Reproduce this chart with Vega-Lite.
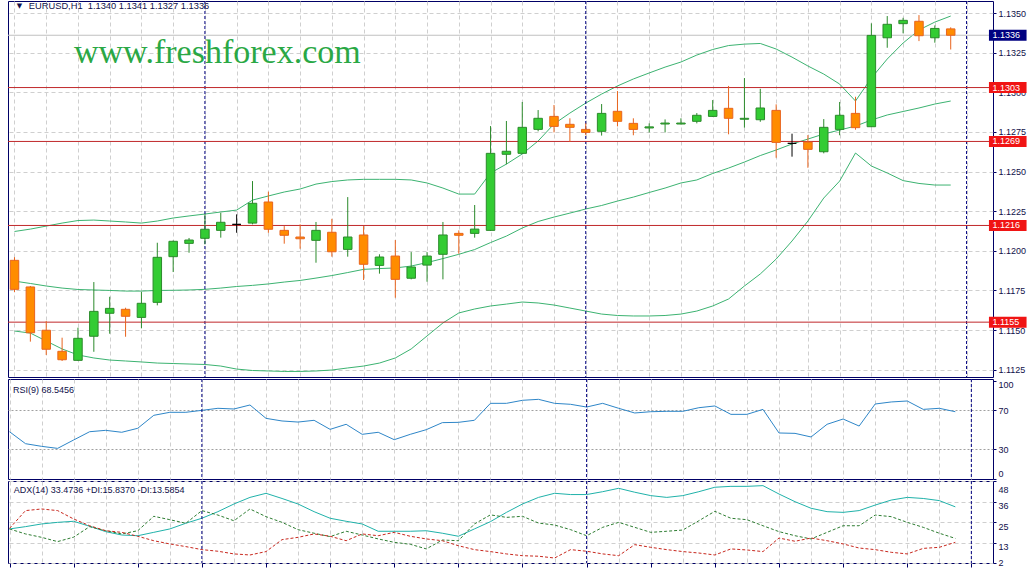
{
  "$schema": "https://vega.github.io/schema/vega-lite/v6.json",
  "background": "white",
  "padding": {"left": 7, "top": 0, "right": 0, "bottom": 0},
  "spacing": 2,
  "bounds": "flush",
  "config": {
    "view": {"stroke": "#000066", "strokeWidth": 1},
    "axis": {"labelFont": "Liberation Sans", "labelFontSize": 9, "labelColor": "#10104a", "gridColor": "#CFCFCF", "gridDash": [4, 3], "gridWidth": 1, "tickColor": "#000066", "domain": false}
  },
  "datasets": {
    "bars": [
      {"i":0,"o":1.11940,"h":1.11960,"l":1.11740,"c":1.11757,"u":1.12122,"m":1.11809,"lb":1.11494,"rsi":48.0,"adx":21.1,"pdi":21.1,"mdi":21.4},
      {"i":1,"o":1.11772,"h":1.11778,"l":1.11427,"c":1.11483,"u":1.12137,"m":1.11794,"lb":1.11481,"rsi":35.7,"adx":22.4,"pdi":18.3,"mdi":31.4},
      {"i":2,"o":1.11499,"h":1.11557,"l":1.11343,"c":1.11379,"u":1.12156,"m":1.11778,"lb":1.11431,"rsi":33.0,"adx":23.9,"pdi":16.4,"mdi":32.3},
      {"i":3,"o":1.11366,"h":1.11452,"l":1.11305,"c":1.11313,"u":1.12175,"m":1.11765,"lb":1.11381,"rsi":30.9,"adx":24.8,"pdi":14.0,"mdi":31.4},
      {"i":4,"o":1.11309,"h":1.11515,"l":1.11305,"c":1.11448,"u":1.12191,"m":1.11756,"lb":1.11343,"rsi":39.5,"adx":25.4,"pdi":16.5,"mdi":26.7},
      {"i":5,"o":1.11461,"h":1.11803,"l":1.11363,"c":1.11618,"u":1.12194,"m":1.11753,"lb":1.11324,"rsi":48.0,"adx":22.6,"pdi":22.4,"mdi":22.9},
      {"i":6,"o":1.11606,"h":1.11710,"l":1.11477,"c":1.11637,"u":1.12188,"m":1.11750,"lb":1.11311,"rsi":49.4,"adx":19.6,"pdi":20.1,"mdi":20.1},
      {"i":7,"o":1.11631,"h":1.11641,"l":1.11458,"c":1.11587,"u":1.12182,"m":1.11746,"lb":1.11305,"rsi":47.4,"adx":17.7,"pdi":18.3,"mdi":19.2},
      {"i":8,"o":1.11580,"h":1.11740,"l":1.11511,"c":1.11669,"u":1.12175,"m":1.11746,"lb":1.11299,"rsi":51.5,"adx":17.3,"pdi":20.1,"mdi":17.0},
      {"i":9,"o":1.11675,"h":1.12051,"l":1.11656,"c":1.11959,"u":1.12188,"m":1.11750,"lb":1.11292,"rsi":64.8,"adx":19.2,"pdi":28.2,"mdi":14.5},
      {"i":10,"o":1.11963,"h":1.12065,"l":1.11866,"c":1.12060,"u":1.12207,"m":1.11751,"lb":1.11289,"rsi":67.9,"adx":21.1,"pdi":26.3,"mdi":12.7},
      {"i":11,"o":1.12047,"h":1.12081,"l":1.11988,"c":1.12068,"u":1.12220,"m":1.11753,"lb":1.11286,"rsi":67.9,"adx":24.3,"pdi":24.3,"mdi":11.2},
      {"i":12,"o":1.12079,"h":1.12230,"l":1.12041,"c":1.12136,"u":1.12232,"m":1.11757,"lb":1.11283,"rsi":69.9,"adx":27.1,"pdi":31.4,"mdi":9.5},
      {"i":13,"o":1.12129,"h":1.12240,"l":1.12083,"c":1.12180,"u":1.12245,"m":1.11765,"lb":1.11273,"rsi":72.0,"adx":30.8,"pdi":28.9,"mdi":8.6},
      {"i":14,"o":1.12167,"h":1.12230,"l":1.12114,"c":1.12167,"u":1.12257,"m":1.11775,"lb":1.11254,"rsi":71.3,"adx":35.1,"pdi":25.7,"mdi":7.1},
      {"i":15,"o":1.12175,"h":1.12440,"l":1.12167,"c":1.12300,"u":1.12320,"m":1.11782,"lb":1.11245,"rsi":75.4,"adx":38.8,"pdi":32.3,"mdi":6.5},
      {"i":16,"o":1.12308,"h":1.12373,"l":1.12114,"c":1.12136,"u":1.12346,"m":1.11791,"lb":1.11242,"rsi":61.7,"adx":41.1,"pdi":28.0,"mdi":8.4},
      {"i":17,"o":1.12129,"h":1.12156,"l":1.12045,"c":1.12098,"u":1.12371,"m":1.11803,"lb":1.11239,"rsi":59.0,"adx":38.2,"pdi":24.8,"mdi":15.1},
      {"i":18,"o":1.12087,"h":1.12167,"l":1.12013,"c":1.12076,"u":1.12390,"m":1.11813,"lb":1.11239,"rsi":57.9,"adx":35.1,"pdi":20.7,"mdi":16.4},
      {"i":19,"o":1.12066,"h":1.12182,"l":1.11925,"c":1.12129,"u":1.12421,"m":1.11828,"lb":1.11242,"rsi":59.7,"adx":30.8,"pdi":18.7,"mdi":18.3},
      {"i":20,"o":1.12117,"h":1.12202,"l":1.11963,"c":1.11994,"u":1.12437,"m":1.11844,"lb":1.11248,"rsi":50.4,"adx":27.1,"pdi":16.8,"mdi":17.0},
      {"i":21,"o":1.12009,"h":1.12339,"l":1.11963,"c":1.12087,"u":1.12447,"m":1.11863,"lb":1.11261,"rsi":55.6,"adx":25.4,"pdi":19.8,"mdi":14.5},
      {"i":22,"o":1.12100,"h":1.12156,"l":1.11816,"c":1.11915,"u":1.12451,"m":1.11883,"lb":1.11273,"rsi":45.3,"adx":23.9,"pdi":17.7,"mdi":18.3},
      {"i":23,"o":1.11908,"h":1.11978,"l":1.11856,"c":1.11961,"u":1.12451,"m":1.11888,"lb":1.11292,"rsi":47.4,"adx":19.8,"pdi":15.5,"mdi":17.3},
      {"i":24,"o":1.11967,"h":1.12068,"l":1.11704,"c":1.11820,"u":1.12451,"m":1.11892,"lb":1.11324,"rsi":39.8,"adx":19.8,"pdi":13.6,"mdi":19.2},
      {"i":25,"o":1.11827,"h":1.11992,"l":1.11820,"c":1.11898,"u":1.12447,"m":1.11904,"lb":1.11381,"rsi":45.3,"adx":19.8,"pdi":12.5,"mdi":17.0},
      {"i":26,"o":1.11910,"h":1.11992,"l":1.11805,"c":1.11967,"u":1.12428,"m":1.11926,"lb":1.11463,"rsi":50.1,"adx":20.1,"pdi":9.9,"mdi":15.5},
      {"i":27,"o":1.11978,"h":1.12182,"l":1.11820,"c":1.12100,"u":1.12396,"m":1.11951,"lb":1.11545,"rsi":57.3,"adx":18.7,"pdi":14.9,"mdi":14.5},
      {"i":28,"o":1.12110,"h":1.12129,"l":1.11982,"c":1.12098,"u":1.12358,"m":1.11978,"lb":1.11608,"rsi":57.6,"adx":17.0,"pdi":14.5,"mdi":11.7},
      {"i":29,"o":1.12110,"h":1.12289,"l":1.12083,"c":1.12137,"u":1.12358,"m":1.12008,"lb":1.11633,"rsi":59.7,"adx":21.1,"pdi":23.9,"mdi":9.5},
      {"i":30,"o":1.12129,"h":1.12787,"l":1.12125,"c":1.12615,"u":1.12491,"m":1.12052,"lb":1.11652,"rsi":77.1,"adx":25.2,"pdi":29.0,"mdi":8.4},
      {"i":31,"o":1.12609,"h":1.12819,"l":1.12546,"c":1.12628,"u":1.12547,"m":1.12093,"lb":1.11664,"rsi":77.1,"adx":30.4,"pdi":27.6,"mdi":7.1},
      {"i":32,"o":1.12615,"h":1.12939,"l":1.12610,"c":1.12779,"u":1.12611,"m":1.12144,"lb":1.11677,"rsi":80.2,"adx":35.1,"pdi":28.2,"mdi":6.1},
      {"i":33,"o":1.12766,"h":1.12888,"l":1.12754,"c":1.12836,"u":1.12693,"m":1.12185,"lb":1.11671,"rsi":81.2,"adx":38.8,"pdi":24.4,"mdi":5.8},
      {"i":34,"o":1.12848,"h":1.12920,"l":1.12747,"c":1.12785,"u":1.12800,"m":1.12213,"lb":1.11658,"rsi":77.1,"adx":41.1,"pdi":23.3,"mdi":4.8},
      {"i":35,"o":1.12798,"h":1.12836,"l":1.12688,"c":1.12779,"u":1.12869,"m":1.12238,"lb":1.11639,"rsi":76.1,"adx":40.4,"pdi":20.7,"mdi":9.5},
      {"i":36,"o":1.12766,"h":1.12804,"l":1.12729,"c":1.12747,"u":1.12932,"m":1.12264,"lb":1.11620,"rsi":73.3,"adx":40.4,"pdi":17.3,"mdi":8.6},
      {"i":37,"o":1.12754,"h":1.12926,"l":1.12727,"c":1.12867,"u":1.12989,"m":1.12286,"lb":1.11601,"rsi":77.1,"adx":42.0,"pdi":22.0,"mdi":7.1},
      {"i":38,"o":1.12880,"h":1.13008,"l":1.12785,"c":1.12817,"u":1.13040,"m":1.12314,"lb":1.11592,"rsi":72.0,"adx":43.9,"pdi":24.8,"mdi":6.1},
      {"i":39,"o":1.12804,"h":1.12836,"l":1.12729,"c":1.12766,"u":1.13084,"m":1.12339,"lb":1.11589,"rsi":67.2,"adx":41.7,"pdi":22.0,"mdi":12.3},
      {"i":40,"o":1.12775,"h":1.12804,"l":1.12747,"c":1.12782,"u":1.13122,"m":1.12368,"lb":1.11589,"rsi":68.5,"adx":39.8,"pdi":19.2,"mdi":10.8},
      {"i":41,"o":1.12800,"h":1.12829,"l":1.12747,"c":1.12806,"u":1.13159,"m":1.12396,"lb":1.11592,"rsi":68.9,"adx":38.8,"pdi":19.8,"mdi":9.5},
      {"i":42,"o":1.12800,"h":1.12836,"l":1.12798,"c":1.12806,"u":1.13191,"m":1.12428,"lb":1.11601,"rsi":68.9,"adx":39.8,"pdi":20.5,"mdi":8.4},
      {"i":43,"o":1.12817,"h":1.12869,"l":1.12804,"c":1.12855,"u":1.13235,"m":1.12447,"lb":1.11620,"rsi":72.6,"adx":42.0,"pdi":25.7,"mdi":7.6},
      {"i":44,"o":1.12848,"h":1.12951,"l":1.12845,"c":1.12886,"u":1.13270,"m":1.12488,"lb":1.11652,"rsi":74.4,"adx":44.5,"pdi":31.0,"mdi":6.5},
      {"i":45,"o":1.12899,"h":1.13040,"l":1.12735,"c":1.12836,"u":1.13295,"m":1.12522,"lb":1.11696,"rsi":65.8,"adx":45.0,"pdi":27.1,"mdi":9.9},
      {"i":46,"o":1.12830,"h":1.13090,"l":1.12777,"c":1.12836,"u":1.13304,"m":1.12560,"lb":1.11778,"rsi":65.8,"adx":45.0,"pdi":26.3,"mdi":9.3},
      {"i":47,"o":1.12827,"h":1.13022,"l":1.12814,"c":1.12901,"u":1.13308,"m":1.12601,"lb":1.11854,"rsi":70.9,"adx":45.4,"pdi":22.9,"mdi":8.4},
      {"i":48,"o":1.12886,"h":1.12924,"l":1.12587,"c":1.12684,"u":1.13273,"m":1.12636,"lb":1.11948,"rsi":46.7,"adx":40.7,"pdi":19.6,"mdi":16.0},
      {"i":49,"o":1.12678,"h":1.12739,"l":1.12594,"c":1.12678,"u":1.13222,"m":1.12674,"lb":1.12062,"rsi":46.3,"adx":36.4,"pdi":17.3,"mdi":14.2},
      {"i":50,"o":1.12686,"h":1.12730,"l":1.12524,"c":1.12640,"u":1.13166,"m":1.12705,"lb":1.12188,"rsi":42.6,"adx":32.7,"pdi":15.5,"mdi":16.0},
      {"i":51,"o":1.12625,"h":1.12831,"l":1.12615,"c":1.12779,"u":1.13115,"m":1.12737,"lb":1.12333,"rsi":55.6,"adx":30.8,"pdi":19.2,"mdi":14.5},
      {"i":52,"o":1.12766,"h":1.12939,"l":1.12729,"c":1.12855,"u":1.13052,"m":1.12762,"lb":1.12440,"rsi":61.0,"adx":30.4,"pdi":22.9,"mdi":12.7},
      {"i":53,"o":1.12867,"h":1.12972,"l":1.12764,"c":1.12777,"u":1.12945,"m":1.12787,"lb":1.12617,"rsi":53.8,"adx":31.4,"pdi":22.9,"mdi":10.4},
      {"i":54,"o":1.12783,"h":1.13435,"l":1.12780,"c":1.13359,"u":1.13090,"m":1.12825,"lb":1.12535,"rsi":76.4,"adx":34.5,"pdi":28.9,"mdi":9.5},
      {"i":55,"o":1.13344,"h":1.13481,"l":1.13281,"c":1.13429,"u":1.13210,"m":1.12857,"lb":1.12491,"rsi":78.5,"adx":37.3,"pdi":28.0,"mdi":8.0},
      {"i":56,"o":1.13433,"h":1.13470,"l":1.13372,"c":1.13454,"u":1.13311,"m":1.12879,"lb":1.12443,"rsi":79.5,"adx":38.8,"pdi":24.8,"mdi":7.1},
      {"i":57,"o":1.13448,"h":1.13487,"l":1.13323,"c":1.13357,"u":1.13393,"m":1.12901,"lb":1.12425,"rsi":70.9,"adx":38.2,"pdi":22.0,"mdi":10.2},
      {"i":58,"o":1.13344,"h":1.13422,"l":1.13313,"c":1.13403,"u":1.13443,"m":1.12926,"lb":1.12415,"rsi":72.0,"adx":37.0,"pdi":18.7,"mdi":10.8},
      {"i":59,"o":1.13400,"h":1.13410,"l":1.13270,"c":1.13360,"u":1.13481,"m":1.12945,"lb":1.12415,"rsi":68.5,"adx":33.5,"pdi":15.8,"mdi":13.6}
    ],
    "levels": [{"v": 1.1303}, {"v": 1.1269}, {"v": 1.1216}, {"v": 1.1155}],
    "bid": [{"v": 1.1336}],
    "days": [{"d": 12}, {"d": 36}, {"d": 60}]
  },
  "vconcat": [
    {
      "width": 985,
      "height": 376,
      "data": {"name": "bars"},
      "layer": [
        {
          "mark": {"type": "line", "color": "#3CB371", "strokeWidth": 1, "clip": true},
          "encoding": {
            "x": {"field": "i", "type": "quantitative", "scale": {"domain": [-0.094, 61.35], "nice": false, "zero": false},
                  "axis": {"values": [0,2,4,6,8,10,12,14,16,18,20,22,24,26,28,30,32,34,36,38,40,42,44,46,48,50,52,54,56,58,60], "tickCount": 100, "labels": false, "ticks": false, "grid": true, "title": null}},
            "y": {"field": "u", "type": "quantitative", "scale": {"domain": [1.11204, 1.13576], "nice": false, "zero": false},
                  "axis": {"orient": "right", "values": [1.1125, 1.115, 1.1175, 1.12, 1.1225, 1.125, 1.1275, 1.13, 1.1325, 1.135], "tickCount": 100, "format": ".4f", "grid": true, "ticks": true, "tickSize": 3, "labelPadding": 2, "labelOverlap": false, "title": null}}
          }
        },
        {
          "mark": {"type": "line", "color": "#3CB371", "strokeWidth": 1, "clip": true},
          "encoding": {"x": {"field": "i", "type": "quantitative"}, "y": {"field": "m", "type": "quantitative"}}
        },
        {
          "mark": {"type": "line", "color": "#3CB371", "strokeWidth": 1, "clip": true},
          "encoding": {"x": {"field": "i", "type": "quantitative"}, "y": {"field": "lb", "type": "quantitative"}}
        },
        {
          "data": {"name": "days"},
          "mark": {"type": "rule", "color": "#000080", "strokeWidth": 1, "strokeDash": [3, 2]},
          "encoding": {"x": {"field": "d", "type": "quantitative"}}
        },
        {
          "data": {"name": "bid"},
          "mark": {"type": "rule", "color": "#C0C0C0", "strokeWidth": 1},
          "encoding": {"y": {"field": "v", "type": "quantitative"}}
        },
        {
          "data": {"name": "levels"},
          "mark": {"type": "rule", "color": "#C0282A", "strokeWidth": 1},
          "encoding": {"y": {"field": "v", "type": "quantitative"}}
        },
        {
          "mark": {"type": "rule", "strokeWidth": 1, "clip": true},
          "encoding": {
            "x": {"field": "i", "type": "quantitative"},
            "y": {"field": "l", "type": "quantitative"},
            "y2": {"field": "h"},
            "stroke": {"condition": [{"test": "datum.c > datum.o", "value": "#2B8A2B"}, {"test": "datum.c < datum.o", "value": "#E8641E"}], "value": "#000000"}
          }
        },
        {
          "mark": {"type": "bar", "width": 8.5, "strokeWidth": 1, "clip": true},
          "encoding": {
            "x": {"field": "i", "type": "quantitative"},
            "y": {"field": "o", "type": "quantitative"},
            "y2": {"field": "c"},
            "fill": {"condition": [{"test": "datum.c > datum.o", "value": "#33CC33"}, {"test": "datum.c < datum.o", "value": "#FF8C00"}], "value": "#000000"},
            "stroke": {"condition": [{"test": "datum.c > datum.o", "value": "#2B8A2B"}, {"test": "datum.c < datum.o", "value": "#E8641E"}], "value": "#000000"}
          }
        },
        {
          "data": {"values": [{"t": "www.freshforex.com"}]},
          "mark": {"type": "text", "align": "left", "baseline": "alphabetic", "font": "Liberation Serif", "fontSize": 34, "color": "#2AA845"},
          "encoding": {"x": {"datum": 3.75, "type": "quantitative"}, "y": {"datum": 1.13188, "type": "quantitative"}, "text": {"field": "t"}}
        },
        {
          "data": {"values": [{"t": "EURUSD,H1\u00a0 1.1340 1.1341 1.1327 1.1336"}]},
          "mark": {"type": "text", "align": "left", "baseline": "middle", "font": "Liberation Sans", "fontSize": 9.3, "color": "#10104a"},
          "encoding": {"x": {"datum": 0.904, "type": "quantitative"}, "y": {"datum": 1.13544, "type": "quantitative"}, "text": {"field": "t"}}
        },
        {
          "data": {"values": [{"t": "▼"}]},
          "mark": {"type": "text", "align": "center", "baseline": "middle", "font": "DejaVu Sans", "fontSize": 7, "color": "#10104a"},
          "encoding": {"x": {"datum": 0.311, "type": "quantitative"}, "y": {"datum": 1.13544, "type": "quantitative"}, "text": {"field": "t"}}
        },
        {
          "data": {"name": "levels"},
          "mark": {"type": "rule", "color": "#F01414", "strokeWidth": 11, "strokeCap": "butt"},
          "encoding": {"x": {"datum": 61.41, "type": "quantitative"}, "x2": {"datum": 63.78}, "y": {"field": "v", "type": "quantitative"}}
        },
        {
          "data": {"name": "levels"},
          "mark": {"type": "text", "align": "left", "baseline": "middle", "font": "Liberation Sans", "fontSize": 9, "color": "white"},
          "encoding": {"x": {"datum": 61.63, "type": "quantitative"}, "y": {"field": "v", "type": "quantitative"}, "text": {"field": "v", "type": "quantitative", "format": ".4f"}}
        },
        {
          "data": {"name": "bid"},
          "mark": {"type": "rule", "color": "#000080", "strokeWidth": 11, "strokeCap": "butt"},
          "encoding": {"x": {"datum": 61.41, "type": "quantitative"}, "x2": {"datum": 63.78}, "y": {"field": "v", "type": "quantitative"}}
        },
        {
          "data": {"name": "bid"},
          "mark": {"type": "text", "align": "left", "baseline": "middle", "font": "Liberation Sans", "fontSize": 9, "color": "white"},
          "encoding": {"x": {"datum": 61.63, "type": "quantitative"}, "y": {"field": "v", "type": "quantitative"}, "text": {"field": "v", "type": "quantitative", "format": ".4f"}}
        }
      ]
    },
    {
      "width": 985,
      "height": 100,
      "data": {"name": "bars"},
      "layer": [
        {
          "mark": {"type": "line", "color": "#2E86C8", "strokeWidth": 1, "clip": true},
          "encoding": {
            "x": {"field": "i", "type": "quantitative", "scale": {"domain": [-0.094, 61.35], "nice": false, "zero": false},
                  "axis": {"values": [0,2,4,6,8,10,12,14,16,18,20,22,24,26,28,30,32,34,36,38,40,42,44,46,48,50,52,54,56,58,60], "tickCount": 100, "labels": false, "ticks": false, "grid": true, "title": null}},
            "y": {"field": "rsi", "type": "quantitative", "scale": {"domain": [-0.5, 102.05], "nice": false, "zero": false},
                  "axis": {"orient": "right", "values": [0, 30, 70, 100], "tickCount": 100, "format": "d", "grid": true, "gridDash": [2, 2],
                           "gridColor": {"condition": {"test": "datum.value === 30 || datum.value === 70", "value": "#A0A0A0"}, "value": "transparent"},
                           "labelFlush": 3,
                           "ticks": true, "tickSize": 3, "labelPadding": 2, "labelOverlap": false, "title": null}}
          }
        },
        {
          "data": {"name": "days"},
          "mark": {"type": "rule", "color": "#000080", "strokeWidth": 1, "strokeDash": [3, 2]},
          "encoding": {"x": {"field": "d", "type": "quantitative"}}
        },
        {
          "data": {"values": [{"t": "RSI(9) 68.5456"}]},
          "mark": {"type": "text", "align": "left", "baseline": "middle", "font": "Liberation Sans", "fontSize": 9, "color": "#10104a"},
          "encoding": {"x": {"datum": 0.218, "type": "quantitative"}, "y": {"datum": 90.8, "type": "quantitative"}, "text": {"field": "t"}}
        }
      ]
    },
    {
      "width": 985,
      "height": 82,
      "data": {"name": "bars"},
      "layer": [
        {
          "mark": {"type": "line", "color": "#20B2AA", "strokeWidth": 1, "clip": true},
          "encoding": {
            "x": {"field": "i", "type": "quantitative", "scale": {"domain": [-0.094, 61.35], "nice": false, "zero": false},
                  "axis": {"values": [0,2,4,6,8,10,12,14,16,18,20,22,24,26,28,30,32,34,36,38,40,42,44,46,48,50,52,54,56,58,60], "tickCount": 100, "grid": true, "ticks": true, "tickSize": 4,
                           "tickColor": {"condition": {"test": "datum.value % 4 === 0", "value": "#000066"}, "value": "transparent"},
                           "labelExpr": "datum.value % 4 === 0 && datum.value < 60 ? ['9 Sep 2015','9 Sep 16:00','9 Sep 20:00','10 Sep 00:00','10 Sep 04:00','10 Sep 08:00','10 Sep 12:00','10 Sep 16:00','10 Sep 20:00','11 Sep 00:00','11 Sep 04:00','11 Sep 08:00','11 Sep 12:00','11 Sep 16:00','11 Sep 20:00'][datum.value / 4] : ''",
                           "labelAlign": "left", "labelBaseline": "top", "labelPadding": 2, "labelOffset": 2, "labelFlush": false, "labelOverlap": false, "title": null}},
            "y": {"field": "adx", "type": "quantitative", "scale": {"domain": [2, 48], "nice": false, "zero": false},
                  "axis": {"orient": "right", "values": [2, 13.5, 25, 36.5, 48], "tickCount": 100, "labelExpr": "floor(datum.value)", "grid": true,
                           "labelFlush": true, "labelOffset": 4,
                           "ticks": true, "tickSize": 3, "labelPadding": 2, "labelOverlap": false, "title": null}}
          }
        },
        {
          "mark": {"type": "line", "color": "#2E7D32", "strokeWidth": 1, "strokeDash": [3, 2], "clip": true},
          "encoding": {"x": {"field": "i", "type": "quantitative"}, "y": {"field": "pdi", "type": "quantitative"}}
        },
        {
          "mark": {"type": "line", "color": "#C8281E", "strokeWidth": 1, "strokeDash": [3, 2], "clip": true},
          "encoding": {"x": {"field": "i", "type": "quantitative"}, "y": {"field": "mdi", "type": "quantitative"}}
        },
        {
          "data": {"name": "days"},
          "mark": {"type": "rule", "color": "#000080", "strokeWidth": 1, "strokeDash": [3, 2]},
          "encoding": {"x": {"field": "d", "type": "quantitative"}}
        },
        {
          "data": {"values": [{"t": "ADX(14) 33.4736 +DI:15.8370 -DI:13.5854"}]},
          "mark": {"type": "text", "align": "left", "baseline": "middle", "font": "Liberation Sans", "fontSize": 9, "color": "#10104a"},
          "encoding": {"x": {"datum": 0.26, "type": "quantitative"}, "y": {"datum": 43.1, "type": "quantitative"}, "text": {"field": "t"}}
        }
      ]
    }
  ]
}
